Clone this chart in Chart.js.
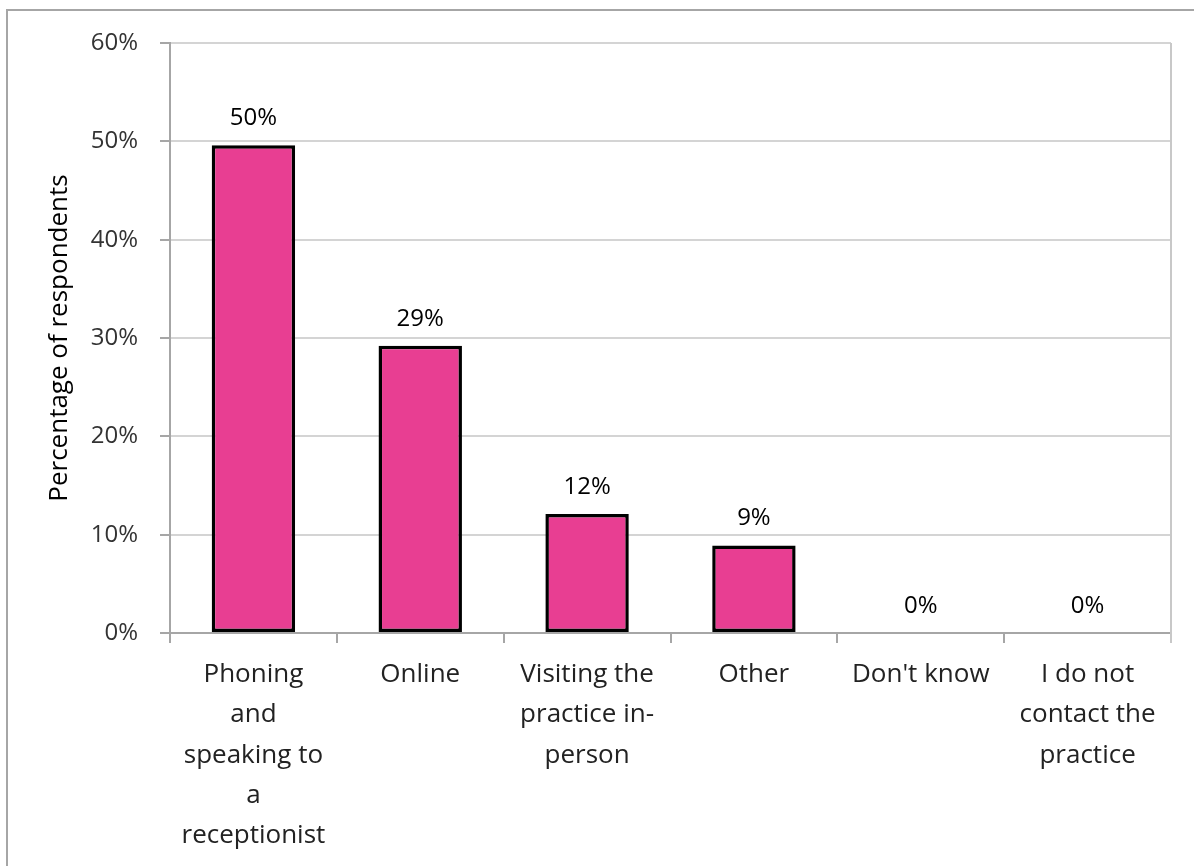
<!DOCTYPE html>
<html>
<head>
<meta charset="utf-8">
<script src="https://cdn.jsdelivr.net/npm/chart.js@4/dist/chart.umd.min.js"></script>
<style>
  html, body { margin: 0; padding: 0; background: #fff; }
  #wrap { position: relative; width: 1194px; height: 866px; overflow: hidden; }
  #frame {
    position: absolute; left: 6px; top: 9px; width: 1400px; height: 1000px;
    border-left: 2px solid #a6a6a6; border-top: 2px solid #a6a6a6;
  }
  canvas { position: absolute; left: 0; top: 0; }
</style>
</head>
<body>
<div id="wrap">
  <div id="frame"></div>
  <canvas id="chart" width="1194" height="866"></canvas>
</div>
<script>
// ── Data ──────────────────────────────────────────────────────────
const categories = [
  ["Phoning", "and", "speaking to", "a", "receptionist"],
  ["Online"],
  ["Visiting the", "practice in-", "person"],
  ["Other"],
  ["Don't know"],
  ["I do not", "contact the", "practice"],
];
const shares = [49.6, 29.2, 12.1, 8.9, 0, 0];
const yTicks = [0, 10, 20, 30, 40, 50, 60];

const FONT = "'Open Sans', Lato, sans-serif";
const BAR  = "#e83e92";

// ── Plot box ──────────────────────────────────────────────────────
const PLOT = { left: 170, top: 43, right: 23, bottom: 233 };

// value labels above each bar
const barLabels = {
  id: "barLabels",
  afterDatasetsDraw(chart) {
    const { ctx } = chart;
    const meta = chart.getDatasetMeta(0);
    ctx.save();
    ctx.font = `400 24px ${FONT}`;
    ctx.fillStyle = "#000";
    ctx.textAlign = "center";
    ctx.textBaseline = "alphabetic";
    meta.data.forEach((bar, i) => {
      ctx.fillText(`${Math.round(shares[i])}%`, bar.x, bar.y - 20);
    });
    ctx.restore();
  }
};

// right edge of the plot box, running down into the last tick
const rightEdge = {
  id: "rightEdge",
  afterDraw(chart) {
    const { ctx, chartArea: a } = chart;
    ctx.save();
    ctx.strokeStyle = "#c8c8c8";
    ctx.lineWidth = 2;
    ctx.beginPath();
    ctx.moveTo(a.right, a.top);
    ctx.lineTo(a.right, a.bottom + 10);
    ctx.stroke();
    ctx.restore();
  }
};

new Chart(document.getElementById("chart"), {
  type: "bar",
  data: {
    labels: categories,
    datasets: [{
      data: shares,
      backgroundColor: BAR,
      borderColor: "#000",
      borderWidth: 3.5,
      borderSkipped: false,
      categoryPercentage: 1,
      barPercentage: 0.5,
    }]
  },
  options: {
    responsive: false,
    animation: false,
    layout: { padding: { left: 0, top: PLOT.top, right: PLOT.right, bottom: 0 } },
    plugins: { legend: { display: false }, tooltip: { enabled: false } },
    scales: {
      x: {
        afterFit: s => { s.height = PLOT.bottom; },
        grid: {
          drawOnChartArea: false,
          tickLength: 10,
          tickColor: "#a6a6a6",
          lineWidth: 2,
        },
        border: { color: "#a6a6a6", width: 2 },
        ticks: {
          color: "#222",
          font: { family: FONT, size: 26, lineHeight: 1.54 },
          padding: 12,
          maxRotation: 0,
          autoSkip: false,
        },
      },
      y: {
        min: 0, max: 60,
        afterFit: s => { s.width = PLOT.left; },
        afterBuildTicks: s => { s.ticks = yTicks.map(v => ({ value: v })); },
        grid: {
          color: "#d4d4d4",
          lineWidth: 2,
          tickLength: 10,
          tickColor: "#a6a6a6",
        },
        border: { color: "#a6a6a6", width: 2 },
        ticks: {
          color: "#333",
          font: { family: FONT, size: 24 },
          padding: 22,
          callback: v => `${v}%`,
        },
        title: {
          display: true,
          text: "Percentage of respondents",
          color: "#000",
          font: { family: FONT, size: 26 },
          padding: { top: 44, bottom: 0 },
        },
      },
    },
  },
  plugins: [barLabels, rightEdge],
});
</script>
</body>
</html>
